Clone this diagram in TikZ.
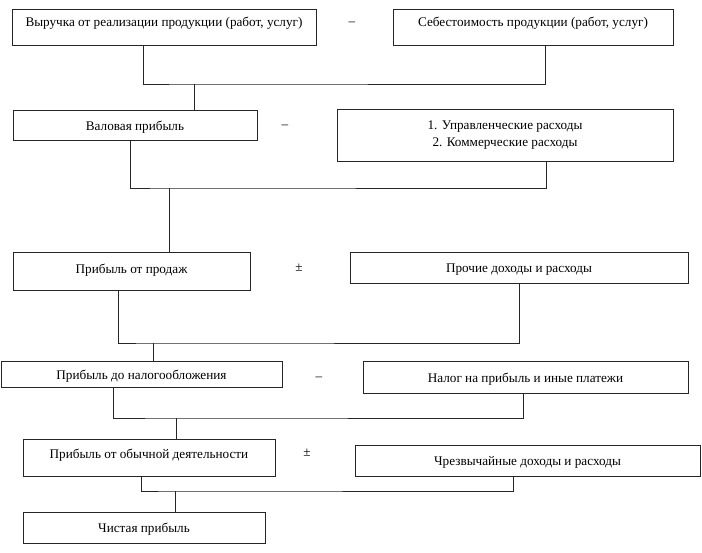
\documentclass[tikz,border=0pt]{standalone}
\usepackage{fontspec}
\setmainfont{Liberation Serif}
\usetikzlibrary{positioning,calc}
\tikzset{
	box/.style  = {rectangle,draw=black!85,line width=1pt,inner sep=2pt,
		align=center,text height=13pt,font=\fontsize{13.2}{17}\selectfont},
	sgn/.style  = {inner sep=1pt,font=\fontsize{13.2}{15}\selectfont},
	ln/.style   = {line width=1pt,black!85},
}

\begin{document}
\begin{tikzpicture}[x=1pt,y=-1pt]
	\useasboundingbox (0,0) rectangle (702,552);
	
	%% Ряд 1
	\node (vyr) [box,minimum width=304pt,minimum height=36pt,text depth=14pt]
	at (164,27) {Выручка от реализации продукции (работ, услуг)};
	\node (seb) [box,minimum width=280pt,minimum height=36pt,text depth=14pt]
	at (533,27) {Себестоимость продукции (работ, услуг)};
	\node (s1) [sgn] at (352,24) {--};
	
	%% Ряд 2
	\node (val) [box,minimum width=244pt,minimum height=30pt]
	at (135,125) {Валовая прибыль};
	\node (upr) [box,minimum width=336pt,minimum height=52pt,text height={}]
	at (505,135.5) {1. Управленческие расходы\\2. Коммерческие расходы};
	\node (s2) [sgn] at (285,127) {--};
	
	%% Ряд 3
	\node (prod) [box,minimum width=237pt,minimum height=38pt,text depth=8pt]
	at (131.5,271) {Прибыль от продаж};
	\node (proch)[box,minimum width=338pt,minimum height=31pt]
	at (519,267.5) {Прочие доходы и расходы};
	\node (s3) [sgn] at (299,268) {±};
	
	%% Ряд 4
	\node (donal)[box,minimum width=281pt,minimum height=26pt]
	at (141.5,374) {Прибыль до налогообложения};
	\node (nalog)[box,minimum width=325pt,minimum height=32pt]
	at (525.5,377) {Налог на прибыль и иные платежи};
	\node (s4) [sgn] at (319,379) {--};
	
	%% Ряд 5
	\node (obych)[box,minimum width=252pt,minimum height=37pt,text depth=12pt]
	at (149,457.5) {Прибыль от обычной деятельности};
	\node (chrez)[box,minimum width=345pt,minimum height=31pt]
	at (527.5,460.5) {Чрезвычайные доходы и расходы};
	\node (s5) [sgn] at (307,453) {±};
	
	%% Ряд 6
	\node (chist)[box,minimum width=242pt,minimum height=31pt]
	at (144,527.5) {Чистая прибыль};
	
	%% Линии
	\coordinate (m1) at (194,84);
	\coordinate (m2) at (169,188);
	\coordinate (m3) at (153,343);
	\coordinate (m4) at (176,418);
	\coordinate (m5) at (175,491);
	\draw[ln]([xshift=-21pt]vyr.south)|-(m1)-|([xshift=12pt]seb.south);
	\draw[ln](m1)--(m1|-val.north);
	\draw[ln]([xshift=-5pt]val.south)|-(m2)-|([xshift=41pt]upr.south);
	\draw[ln](m2)--(m2|-prod.north);
	\draw[ln]([xshift=-13.5pt]prod.south)|-(m3)-|(proch.south);
	\draw[ln](m3)--(m3|-donal.north);
	\draw[ln]([xshift=-28.5pt]donal.south)|-(m4)-|([xshift=-2.5pt]nalog.south);
	\draw[ln](m4)--(m4|-obych.north);
	\draw[ln]([xshift=-8pt]obych.south)|-(m5)-|([xshift=-14.5pt]chrez.south);
	\draw[ln](m5)--(m5|-chist.north);
\end{tikzpicture}
\end{document}
